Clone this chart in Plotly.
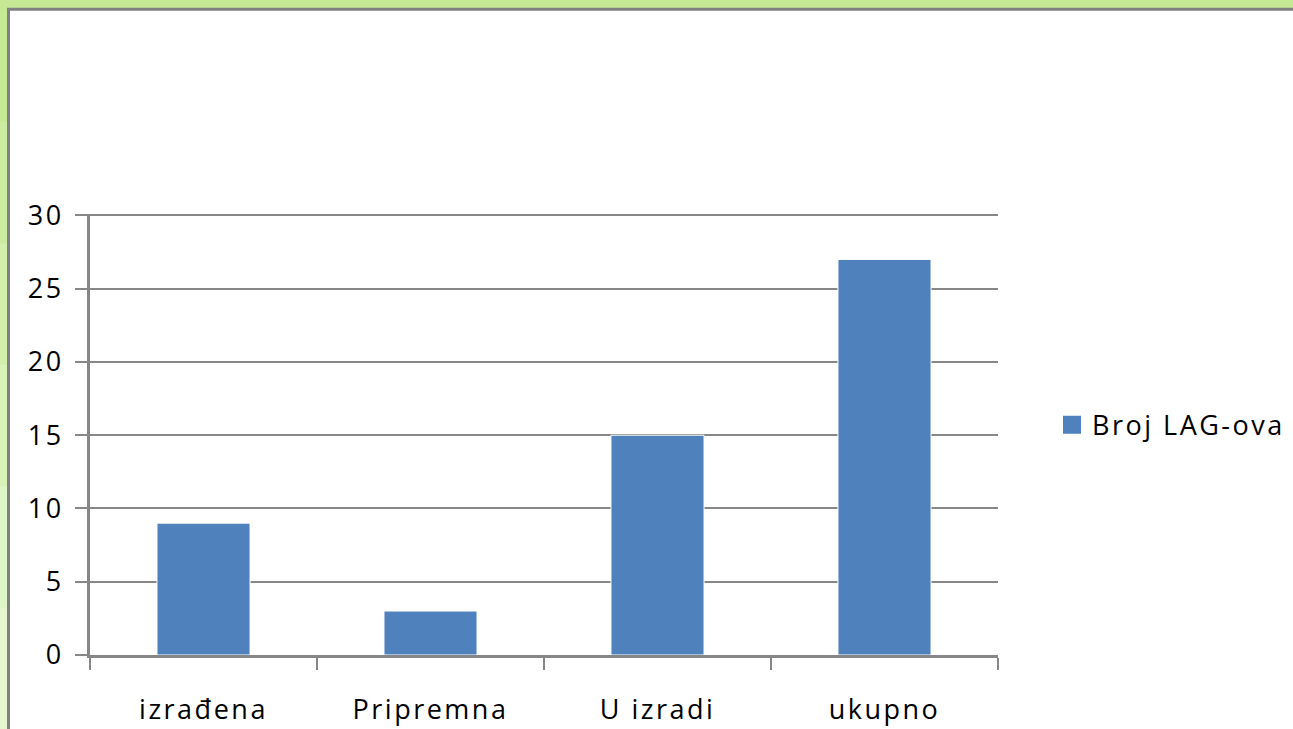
import plotly.graph_objects as go

categories = ["izrađena", "Pripremna", "U izradi", "ukupno"]
values = [9, 3, 15, 27]
series_name = "Broj LAG-ova"
y_ticks = [0, 5, 10, 15, 20, 25, 30]

W, H = 1293, 729
L, R, T, B = 90, 295, 213.5, 74
PW, PH = W - L - R, H - T - B

def px_x(p):
    return (p - L) / PW

def px_y(p):
    return (H - B - p) / PH

GRAY = "#878787"
BLUE = "#4f81bd"
FONT = "Open Sans"

fig = go.Figure()
fig.add_trace(go.Bar(
    x=categories, y=values, name=series_name, showlegend=False,
    marker=dict(color=BLUE, line=dict(color="white", width=1)),
    width=0.41,
))
# legend entry with a larger square swatch
fig.add_trace(go.Scatter(
    x=[None], y=[None], mode="markers", name=series_name,
    marker=dict(symbol="square", size=16, color=BLUE, line=dict(color=BLUE, width=2)),
))

shapes = []
greens = ["#c6e996", "#cbeca0", "#d2efab", "#d9f2b8", "#e0f5c5", "#e6f7d0"]
n = len(greens)
for i, c in enumerate(greens):
    shapes.append(dict(type="rect", xref="paper", yref="paper",
                       x0=px_x(-5), x1=px_x(12),
                       y0=px_y(i * H / n), y1=px_y((i + 1) * H / n + 1),
                       fillcolor=c, line=dict(width=0), layer="below"))
shapes.append(dict(type="rect", xref="paper", yref="paper",
                   x0=px_x(-5), x1=px_x(W + 10), y0=px_y(-5), y1=px_y(12),
                   fillcolor="#c5e895", line=dict(width=0), layer="below"))
shapes.append(dict(type="rect", xref="paper", yref="paper",
                   x0=px_x(8.5), x1=px_x(W + 20), y0=px_y(8.5), y1=px_y(H + 20),
                   fillcolor="white", line=dict(color="#808080", width=3), layer="below"))

fig.update_layout(
    width=W, height=H,
    margin=dict(l=L, r=R, t=T, b=B, pad=0, autoexpand=False),
    paper_bgcolor="#d6f1b2",
    plot_bgcolor="rgba(0,0,0,0)",
    font=dict(family=FONT, size=27, color="black"),
    shapes=shapes,
    bargap=0.59,
    showlegend=True,
    legend=dict(x=px_x(1052), y=px_y(425), xanchor="left", yanchor="middle",
                font=dict(family=FONT, size=27, color="black"),
                bgcolor="rgba(0,0,0,0)", itemwidth=30),
    xaxis=dict(
        type="category", tickson="boundaries", ticks="outside", ticklen=12,
        tickwidth=2, tickcolor=GRAY, showline=True, linecolor=GRAY, linewidth=3,
        showgrid=False, ticklabelstandoff=29, automargin=False,
        tickfont=dict(family=FONT, size=27, color="black"),
    ),
    yaxis=dict(
        range=[0, 30.1], tickvals=y_ticks, ticks="outside", ticklen=12,
        tickwidth=2, tickcolor=GRAY, showline=True, linecolor=GRAY, linewidth=3,
        showgrid=True, gridcolor=GRAY, gridwidth=2, zeroline=False,
        ticklabelstandoff=6, automargin=False,
        tickfont=dict(family=FONT, size=27, color="black"),
    ),
)

post = """
document.body.style.margin='0';
document.querySelectorAll('.xtick text, .ytick text, .legendtext').forEach(function(t){
  t.style.letterSpacing='2.5px';
});
document.querySelectorAll('.legend [clip-path]').forEach(function(e){
  e.removeAttribute('clip-path');
});
"""
fig.write_html("out.html", post_script=post, config={"displayModeBar": False})
